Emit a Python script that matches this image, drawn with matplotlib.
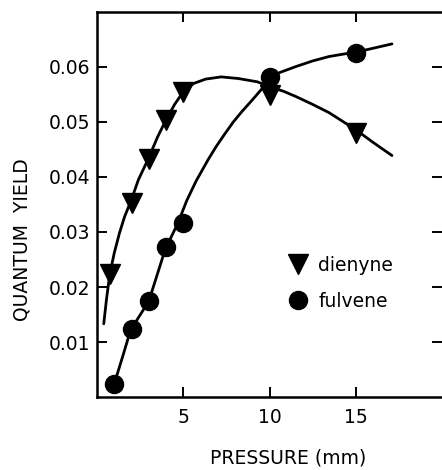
import matplotlib.pyplot as plt
from matplotlib.ticker import FormatStrFormatter

plt.rcParams['font.family'] = ['DejaVu Sans']

# measured points
dienyne_p = [0.75, 2, 3, 4, 5, 10, 15]
dienyne_y = [0.0223, 0.0353, 0.0433, 0.0504, 0.0555, 0.0549, 0.0480]
fulvene_p = [1, 2, 3, 4, 5, 10, 15]
fulvene_y = [0.0024, 0.0123, 0.0174, 0.0272, 0.0317, 0.0582, 0.0625]

# hand-drawn curves
dienyne_curve_p = [0.39, 0.55, 0.74, 1.0, 1.3, 1.6, 1.95, 2.4, 3.0, 3.5, 4.0, 4.5, 5.0, 5.6, 6.3,
                   7.2, 8.2, 9.3, 10.0, 10.8, 11.55, 12.5, 13.45, 14.2, 15.0, 16.0, 17.1]
dienyne_curve_y = [0.0133, 0.0178, 0.0223, 0.0262, 0.0298, 0.0328, 0.0355, 0.0395, 0.0435, 0.0472,
                   0.0504, 0.0532, 0.0555, 0.0570, 0.0578, 0.0582, 0.0579, 0.0573, 0.0564, 0.0556,
                   0.0546, 0.0532, 0.0517, 0.0502, 0.0486, 0.0463, 0.0439]
fulvene_curve_p = [1.0, 1.5, 1.95, 3.0, 3.95, 4.7, 5.2, 5.75, 6.45, 6.9, 7.4, 7.9, 8.4, 9.0, 9.55,
                   10.0, 10.6, 11.55, 12.5, 13.45, 14.2, 15.0, 16.0, 17.1]
fulvene_curve_y = [0.0024, 0.0075, 0.0122, 0.0174, 0.0268, 0.0317, 0.0357, 0.0393, 0.0432, 0.0455,
                   0.0478, 0.0500, 0.0519, 0.0540, 0.0560, 0.0578, 0.0590, 0.0601, 0.0611, 0.0619,
                   0.0623, 0.0627, 0.0634, 0.0642]

x_ticks = [5, 10, 15]
y_ticks = [0.01, 0.02, 0.03, 0.04, 0.05, 0.06]

fig = plt.figure(figsize=(4.42, 4.70), dpi=100)
ax = fig.add_axes([0.2195, 0.1553, 0.7805, 0.8192])

ax.plot(dienyne_curve_p, dienyne_curve_y, color='black', lw=2.0,
        solid_capstyle='round', solid_joinstyle='round')
ax.plot(fulvene_curve_p, fulvene_curve_y, color='black', lw=2.0,
        solid_capstyle='round', solid_joinstyle='round')
ax.plot(dienyne_p, dienyne_y, linestyle='none', marker='v', ms=14, color='black', label='dienyne')
ax.plot(fulvene_p, fulvene_y, linestyle='none', marker='o', ms=13, color='black', label='fulvene')

ax.set_xlim(0, 20)
ax.set_ylim(0, 0.07)
ax.set_xticks(x_ticks)
ax.set_yticks(y_ticks)
ax.yaxis.set_major_formatter(FormatStrFormatter('%.2f'))

for side in ['left', 'bottom', 'top']:
    ax.spines[side].set_linewidth(1.8)
ax.spines['right'].set_visible(False)
ax.tick_params(direction='in', length=7, width=1.4, labelsize=13.5,
               top=True, right=True)
ax.tick_params(axis='x', pad=8)
ax.tick_params(axis='y', pad=5)

ax.set_xlabel('PRESSURE (mm)', fontsize=13.5)
ax.xaxis.set_label_coords(0.555, -0.135)
ax.set_ylabel('QUANTUM  YIELD', fontsize=13.5)
ax.yaxis.set_label_coords(-0.19, 0.41)

ax.legend(loc='center left', bbox_to_anchor=(0.555, 0.295), frameon=False,
          numpoints=1, handlelength=1.0, handletextpad=0.6, borderpad=0,
          borderaxespad=0, labelspacing=0.9, fontsize=13.5)

fig.savefig('out.png', dpi=100)
